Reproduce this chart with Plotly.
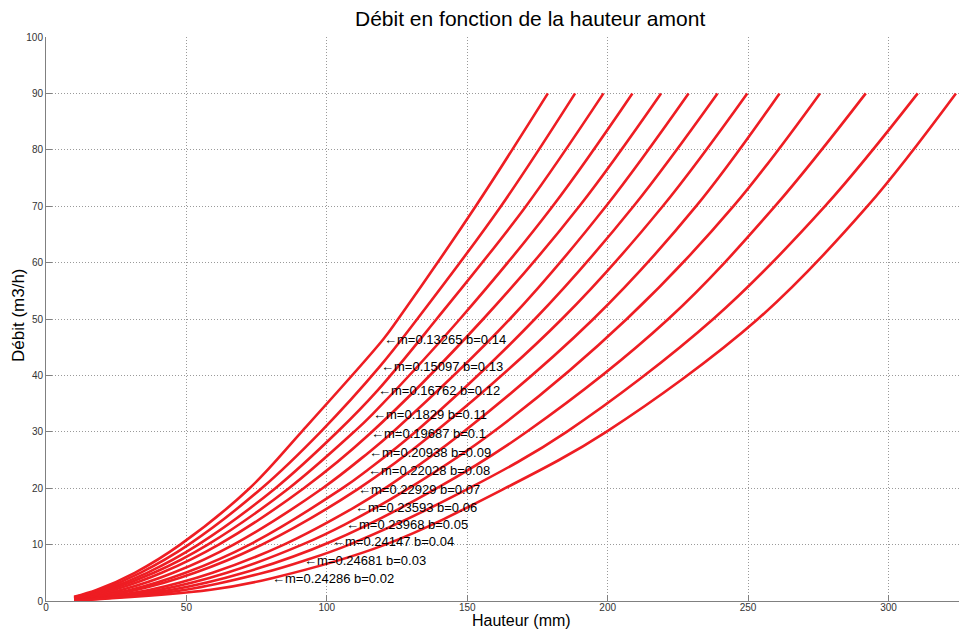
import plotly.graph_objects as go

# Curve labels (m, b) from the annotations
m_vals = ["0.13265", "0.15097", "0.16762", "0.1829", "0.19687", "0.20938", "0.22028",
          "0.22929", "0.23593", "0.23968", "0.24147", "0.24681", "0.24286"]
b_vals = ["0.14", "0.13", "0.12", "0.11", "0.1", "0.09", "0.08",
          "0.07", "0.06", "0.05", "0.04", "0.03", "0.02"]

# Points: hauteur (mm) and débit (m3/h)
h_b014 = [10, 18.2, 31.6, 47.8, 72.5, 91.0, 120.1, 125.4, 153.0, 178.7]
q_b014 = [0.74, 2, 5, 10, 20, 30, 46.4, 50, 70, 90]
h_b013 = [10, 19.5, 33.6, 50.8, 76.8, 97.8, 118.9, 132.2, 162.0, 188.4]
q_b013 = [0.65, 2, 5, 10, 20, 30, 41.6, 50, 70, 90]
h_b012 = [10, 21.0, 36.0, 54.2, 81.7, 103.8, 118.0, 139.1, 170.9, 198.5]
q_b012 = [0.57, 2, 5, 10, 20, 30, 37.3, 50, 70, 90]
h_b011 = [10, 22.4, 38.4, 57.6, 86.5, 109.7, 116.2, 147.4, 180.4, 208.8]
q_b011 = [0.50, 2, 5, 10, 20, 30, 33.1, 50, 70, 90]
h_b010 = [10, 24.3, 41.2, 61.5, 91.8, 115.4, 155.7, 189.9, 219.0]
q_b010 = [0.43, 2, 5, 10, 20, 29.7, 50, 70, 90]
h_b009 = [10, 27.1, 45.3, 66.8, 98.5, 114.8, 123.6, 165.2, 199.4, 228.8]
q_b009 = [0.34, 2, 5, 10, 20, 26.3, 30, 50, 70, 90]
h_b008 = [10, 30.2, 49.7, 72.5, 105.6, 114.2, 131.6, 174.1, 209.2, 239.1]
q_b008 = [0.26, 2, 5, 10, 20, 23.1, 30, 50, 70, 90]
h_b007 = [10, 32.4, 53.0, 76.9, 110.9, 138.6, 183.7, 219.6, 249.7]
q_b007 = [0.22, 2, 5, 10, 19.8, 30, 50, 70, 90]
h_b006 = [10, 37.1, 59.3, 84.7, 109.8, 120.8, 148.7, 194.9, 231.5, 261.2]
q_b006 = [0.16, 2, 5, 10, 16.6, 20, 30, 50, 70, 90]
h_b005 = [10, 40.6, 64.4, 91.2, 106.5, 129.3, 159.3, 206.8, 244.8, 275.6]
q_b005 = [0.12, 2, 5, 10, 13.6, 20, 30, 50, 70, 90]
h_b004 = [10, 44.8, 70.4, 101.4, 139.2, 171.2, 221.6, 259.6, 291.9]
q_b004 = [0.10, 2, 5, 10.5, 20, 30, 50, 70, 90]
h_b003 = [10, 49.8, 77.4, 91.6, 108.0, 150.7, 185.4, 237.6, 277.4, 310.4]
q_b003 = [0.07, 2, 5, 7.1, 10, 20, 30, 50, 70, 90]
h_b002 = [10, 58.7, 80.1, 120.8, 163.5, 199.5, 253.5, 292.5, 324.0]
q_b002 = [0.04, 2, 4.0, 10, 20, 30, 50, 70, 90]

curves_h = [h_b014, h_b013, h_b012, h_b011, h_b010, h_b009, h_b008,
            h_b007, h_b006, h_b005, h_b004, h_b003, h_b002]
curves_q = [q_b014, q_b013, q_b012, q_b011, q_b010, q_b009, q_b008,
            q_b007, q_b006, q_b005, q_b004, q_b003, q_b002]

# Label anchor points (arrow tips) on each curve
ann_h = [120.1, 118.9, 118.0, 116.2, 115.4, 114.8, 114.2, 110.9, 109.8, 106.5, 101.4, 91.6, 80.1]
ann_q = [46.4, 41.6, 37.3, 33.1, 29.7, 26.3, 23.1, 19.8, 16.6, 13.6, 10.5, 7.1, 4.0]

x_ticks = [0, 50, 100, 150, 200, 250, 300]
y_ticks = [0, 10, 20, 30, 40, 50, 60, 70, 80, 90, 100]

fig = go.Figure()
for h, q in zip(curves_h, curves_q):
    fig.add_trace(go.Scatter(x=h, y=q, mode="lines",
                             line=dict(color="#ee1d23", width=2.6, shape="spline", smoothing=1.0),
                             showlegend=False, hoverinfo="skip"))

FONT = "Liberation Sans, Arial, sans-serif"
for xh, yq, m, b in zip(ann_h, ann_q, m_vals, b_vals):
    fig.add_annotation(x=xh, y=yq, xref="x", yref="y", text="\u2190m=" + m + " b=" + b,
                       showarrow=False, xanchor="left", yanchor="middle", xshift=-1,
                       font=dict(family=FONT, size=13, color="#000"))

# plot area in page pixels: x 46..959, y 37..601
PL, PT, PB, PW = 46, 37, 601, 913
def px2paper_x(px):
    return (px - PL) / PW
def py2paper_y(py):
    return (PB - py) / (PB - PT)

fig.add_annotation(x=px2paper_x(530), y=py2paper_y(18), xref="paper", yref="paper",
                   text="Débit en fonction de la hauteur amont", showarrow=False,
                   xanchor="center", yanchor="middle", font=dict(family=FONT, size=21, color="#000"))
fig.add_annotation(x=px2paper_x(521), y=py2paper_y(620), xref="paper", yref="paper",
                   text="Hauteur (mm)", showarrow=False,
                   xanchor="center", yanchor="middle", font=dict(family=FONT, size=16, color="#000"))
fig.add_annotation(x=px2paper_x(18), y=py2paper_y(315), xref="paper", yref="paper",
                   text="Débit (m3/h)", showarrow=False, textangle=-90,
                   xanchor="center", yanchor="middle", font=dict(family=FONT, size=17, color="#000"))

axis_common = dict(showgrid=True, gridcolor="#9a9a9a", griddash="1px,2px", gridwidth=1,
                   showline=True, linecolor="#808080", linewidth=1,
                   ticks="inside", ticklen=6, tickcolor="#808080", tickwidth=1,
                   tickfont=dict(family=FONT, size=10, color="#333"),
                   zeroline=False, mirror=False)

fig.update_layout(
    width=959, height=630,
    margin=dict(l=46, r=0, t=37, b=29),
    paper_bgcolor="white", plot_bgcolor="white",
    xaxis=dict(range=[0, 325.1], tickvals=x_ticks, ticklabelstandoff=-3, **axis_common),
    yaxis=dict(range=[0, 100], tickvals=y_ticks, **axis_common),
)

fig.write_html("out.html", config={"displayModeBar": False},
               post_script="document.body.style.margin='0px';document.body.style.overflow='hidden';")
